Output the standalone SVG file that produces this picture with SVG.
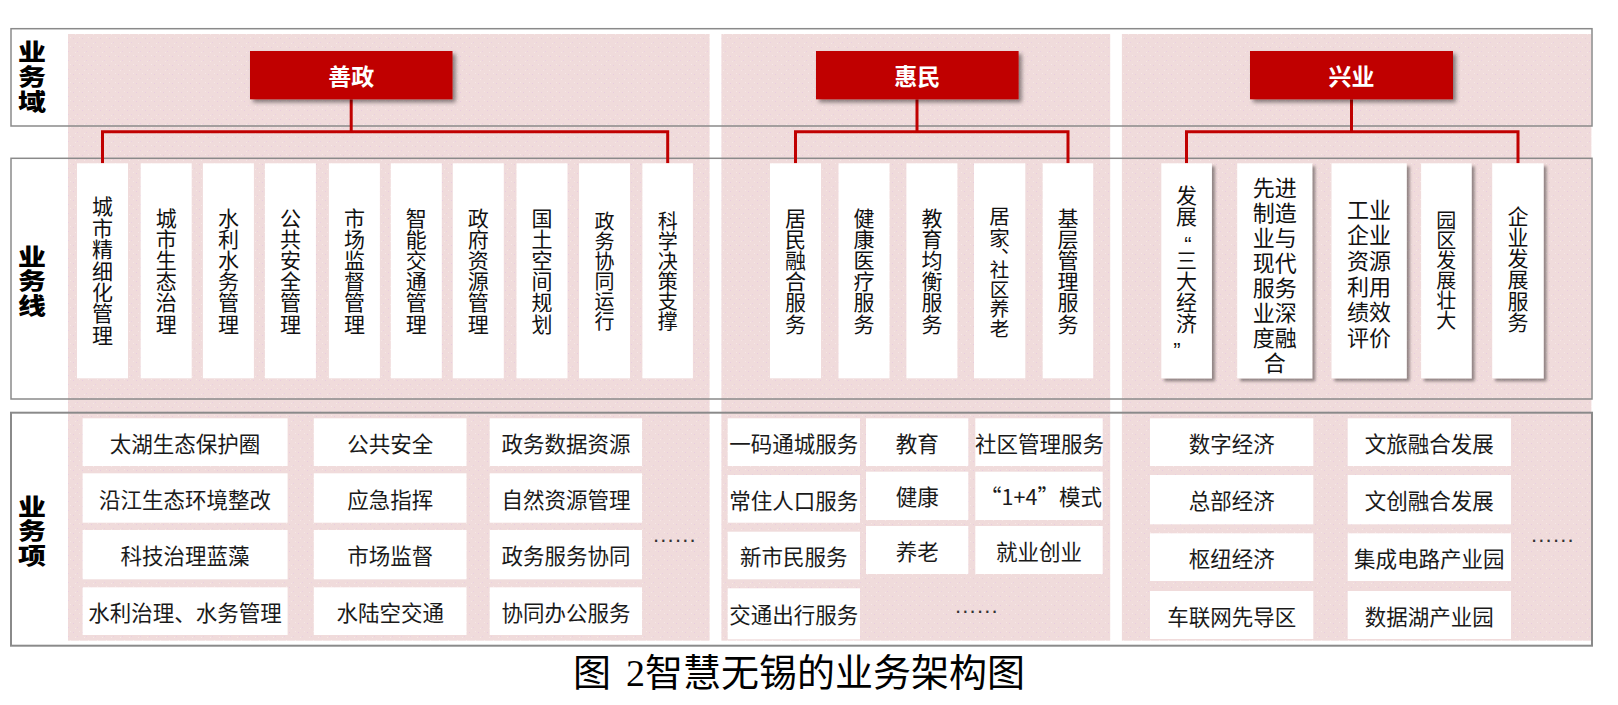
<svg xmlns="http://www.w3.org/2000/svg" width="1618" height="705" viewBox="0 0 1618 705">
<defs>
<style>
.pk{fill:url(#tex)}
.row{fill:none;stroke:#8a8a8a;stroke-width:1.5}
.lab{font-family:"Noto Sans CJK SC",sans-serif;font-weight:900;font-size:28px;fill:#000;text-anchor:middle;writing-mode:vertical-rl;letter-spacing:3px}
.hd rect{fill:#C00000}
.hd text{font-family:"Noto Sans CJK SC",sans-serif;font-weight:700;font-size:23px;fill:#fff;text-anchor:middle;dominant-baseline:central}
.card rect{fill:#fff}
.vt{font-family:"Noto Sans CJK SC",sans-serif;font-size:21px;fill:#111;text-anchor:middle;writing-mode:vertical-rl;letter-spacing:0.2px}
.f20{font-size:20px;letter-spacing:0}
.v{font-family:"Noto Sans CJK SC",sans-serif;font-size:22px;fill:#111;text-anchor:middle;dominant-baseline:central}
.q{font-family:"Liberation Sans",sans-serif;font-size:22px;fill:#111;text-anchor:middle}
.mk{font-family:"Noto Sans CJK SC",sans-serif;font-size:20px;fill:#111;dominant-baseline:central}
.it rect{fill:#fff}
.it text{font-family:"Noto Sans CJK SC",sans-serif;font-size:21.5px;fill:#1a1a1a;text-anchor:middle;dominant-baseline:central}
.con path{fill:none;stroke:#C00000;stroke-width:3}
.dots{font-family:"Liberation Sans",sans-serif;font-size:22px;fill:#333;letter-spacing:1.2px}
.cap{font-family:"Liberation Serif","Noto Sans CJK SC",serif;font-size:38px;fill:#000;dominant-baseline:central}
</style>
<pattern id="tex" width="9" height="9" patternUnits="userSpaceOnUse">
<rect width="9" height="9" fill="#F0DBDB"/>
<rect x="1" y="2" width="1" height="1" fill="#E8CCDE"/>
<rect x="5" y="6" width="1" height="1" fill="#EAD0E0"/>
<rect x="7" y="1" width="1" height="1" fill="#F6E7E6"/>
<rect x="3" y="7" width="1" height="1" fill="#F6E7E6"/>
</pattern>
<filter id="sh" x="-10%" y="-10%" width="130%" height="140%">
<feDropShadow dx="3" dy="3" stdDeviation="2" flood-color="#000" flood-opacity="0.45"/>
</filter>
<filter id="sh2" x="-20%" y="-5%" width="150%" height="115%">
<feDropShadow dx="3" dy="3" stdDeviation="1.5" flood-color="#000" flood-opacity="0.4"/>
</filter>
</defs>

<rect width="1618" height="705" fill="#fff"/>

<g id="panels">
<rect class="pk" x="68" y="34" width="641.6" height="606.7"/>
<rect class="pk" x="721.4" y="34" width="388.8" height="606.7"/>
<rect class="pk" x="1121.9" y="34" width="469.5" height="606.7"/>
</g>

<g id="rows">
<rect class="row" x="11" y="28.7" width="1581" height="97.3"/>
<rect class="row" x="11" y="158.3" width="1581" height="240.7"/>
<rect class="row" x="11" y="412.7" width="1581" height="233" style="stroke-width:2"/>
</g>

<g id="row-labels">
<g id="label-domain" transform="translate(32,77.5) scale(1,0.8)"><text class="lab" x="0" y="0">业务域</text></g>
<g id="label-line" transform="translate(32,282) scale(1,0.8)"><text class="lab" x="0" y="0">业务线</text></g>
<g id="label-item" transform="translate(32,532) scale(1,0.8)"><text class="lab" x="0" y="0">业务项</text></g>
</g>

<g id="connectors" class="con">
<path d="M351.2,99.3 V131.7"/>
<path d="M102.5,163.3 V131.7 H667.7 V163.3"/>
<path d="M917,99.3 V131.7"/>
<path d="M795.5,163.3 V131.7 H1068 V163.3"/>
<path d="M1351.5,99.3 V131.7"/>
<path d="M1186.5,163.3 V131.7 H1518 V163.3"/>
</g>

<g id="hd-shanzheng" class="hd"><rect x="250" y="51" width="202.5" height="48.3" filter="url(#sh)"/><text x="351.2" y="75">善政</text></g>
<g id="hd-huimin" class="hd"><rect x="816" y="51" width="202.6" height="48.3" filter="url(#sh)"/><text x="917.3" y="75">惠民</text></g>
<g id="hd-xingye" class="hd"><rect x="1250" y="51" width="203" height="48.3" filter="url(#sh)"/><text x="1351.5" y="75">兴业</text></g>

<!-- 善政 business lines -->
<g id="c1" class="card"><rect x="77" y="163.3" width="51" height="215"/><text class="vt" x="102.5" y="270.8" style="letter-spacing:0.4px">城市精细化管理</text></g>
<g id="c2" class="card"><rect x="140.7" y="163.3" width="51" height="215"/><text class="vt" x="166.2" y="270.8">城市生态治理</text></g>
<g id="c3" class="card"><rect x="202.9" y="163.3" width="51" height="215"/><text class="vt" x="228.4" y="270.8">水利水务管理</text></g>
<g id="c4" class="card"><rect x="264.9" y="163.3" width="51" height="215"/><text class="vt" x="290.4" y="270.8">公共安全管理</text></g>
<g id="c5" class="card"><rect x="328.9" y="163.3" width="51" height="215"/><text class="vt" x="354.4" y="270.8">市场监督管理</text></g>
<g id="c6" class="card"><rect x="390.8" y="163.3" width="51" height="215"/><text class="vt" x="416.3" y="270.8">智能交通管理</text></g>
<g id="c7" class="card"><rect x="452.8" y="163.3" width="51" height="215"/><text class="vt" x="478.3" y="270.8">政府资源管理</text></g>
<g id="c8" class="card"><rect x="516.5" y="163.3" width="51" height="215"/><text class="vt" x="542" y="270.8">国土空间规划</text></g>
<g id="c9" class="card"><rect x="579" y="163.3" width="51" height="215"/><text class="vt f20" x="604.5" y="271.5">政务协同运行</text></g>
<g id="c10" class="card"><rect x="642.4" y="163.3" width="50.5" height="215"/><text class="vt f20" x="667.7" y="271">科学决策支撑</text></g>

<!-- 惠民 business lines -->
<g id="c11" class="card"><rect x="770" y="163.3" width="51" height="215"/><text class="vt" x="795.5" y="270.8">居民融合服务</text></g>
<g id="c12" class="card"><rect x="838.5" y="163.3" width="51" height="215"/><text class="vt" x="864" y="270.8">健康医疗服务</text></g>
<g id="c13" class="card"><rect x="906.4" y="163.3" width="51" height="215"/><text class="vt" x="932" y="270.8">教育均衡服务</text></g>
<g id="c14" class="card"><rect x="974" y="163.3" width="51.3" height="215"/><text class="vt" x="999.6" y="227.5" style="font-size:20.5px;letter-spacing:1px">居家</text><text class="mk" x="1001" y="244.7">、</text><text class="vt" x="999.6" y="299" style="font-size:19.5px;letter-spacing:0">社区养老</text></g>
<g id="c15" class="card"><rect x="1042.7" y="163.3" width="50.5" height="215"/><text class="vt" x="1068" y="270.8">基层管理服务</text></g>

<!-- 兴业 business lines -->
<g id="c16" class="card"><rect x="1161.3" y="163.3" width="50.6" height="215" filter="url(#sh2)"/><text class="vt" x="1186.5" y="205.5" style="letter-spacing:0">发展</text><text class="q" x="1188" y="251.5">“</text><text class="vt" x="1186.5" y="291.5" style="letter-spacing:0">三大经济</text><text class="q" x="1177" y="358">”</text></g>
<g id="c17" class="card"><rect x="1237.2" y="163.3" width="75" height="215" filter="url(#sh2)"/><text class="v"><tspan x="1274.7" y="186">先进</tspan><tspan x="1274.7" y="211">制造</tspan><tspan x="1274.7" y="236">业与</tspan><tspan x="1274.7" y="261">现代</tspan><tspan x="1274.7" y="286">服务</tspan><tspan x="1274.7" y="311">业深</tspan><tspan x="1274.7" y="336">度融</tspan><tspan x="1274.7" y="361">合</tspan></text></g>
<g id="c18" class="card"><rect x="1331.5" y="163.3" width="75.2" height="215" filter="url(#sh2)"/><text class="v"><tspan x="1369" y="207.7">工业</tspan><tspan x="1369" y="233.3">企业</tspan><tspan x="1369" y="258.9">资源</tspan><tspan x="1369" y="284.5">利用</tspan><tspan x="1369" y="310.1">绩效</tspan><tspan x="1369" y="335.7">评价</tspan></text></g>
<g id="c19" class="card"><rect x="1421.1" y="163.3" width="50.5" height="215" filter="url(#sh2)"/><text class="vt f20" x="1446.3" y="270">园区发展壮大</text></g>
<g id="c20" class="card"><rect x="1492.2" y="163.3" width="51.4" height="215" filter="url(#sh2)"/><text class="vt" x="1518" y="269" style="letter-spacing:0.3px">企业发展服务</text></g>

<!-- 业务项: 善政 -->
<g id="i1" class="it"><rect x="82.6" y="418.3" width="205" height="47.7"/><text x="185" y="442.2">太湖生态保护圈</text></g>
<g id="i2" class="it"><rect x="82.6" y="473.3" width="205" height="49.4"/><text x="185" y="498">沿江生态环境整改</text></g>
<g id="i3" class="it"><rect x="82.6" y="530" width="205" height="49.3"/><text x="185" y="554.7">科技治理蓝藻</text></g>
<g id="i4" class="it"><rect x="82.6" y="587.3" width="205" height="47.7"/><text x="185" y="611.2">水利治理、水务管理</text></g>
<g id="i5" class="it"><rect x="313.8" y="418.3" width="152.7" height="47.7"/><text x="390.2" y="442.2">公共安全</text></g>
<g id="i6" class="it"><rect x="313.8" y="473.3" width="152.7" height="49.4"/><text x="390.2" y="498">应急指挥</text></g>
<g id="i7" class="it"><rect x="313.8" y="530" width="152.7" height="49.3"/><text x="390.2" y="554.7">市场监督</text></g>
<g id="i8" class="it"><rect x="313.8" y="587.3" width="152.7" height="47.7"/><text x="390.2" y="611.2">水陆空交通</text></g>
<g id="i9" class="it"><rect x="489.7" y="418.3" width="152.3" height="47.7"/><text x="565.9" y="442.2">政务数据资源</text></g>
<g id="i10" class="it"><rect x="489.7" y="473.3" width="152.3" height="49.4"/><text x="565.9" y="498">自然资源管理</text></g>
<g id="i11" class="it"><rect x="489.7" y="530" width="152.3" height="49.3"/><text x="565.9" y="554.7">政务服务协同</text></g>
<g id="i12" class="it"><rect x="489.7" y="587.3" width="152.3" height="47.7"/><text x="565.9" y="611.2">协同办公服务</text></g>
<text class="dots" x="653" y="542">......</text>

<!-- 业务项: 惠民 -->
<g id="i13" class="it"><rect x="727.7" y="418.3" width="132.3" height="47.7"/><text x="793.8" y="442.2">一码通城服务</text></g>
<g id="i14" class="it"><rect x="727.7" y="475" width="132.3" height="47.7"/><text x="793.8" y="499">常住人口服务</text></g>
<g id="i15" class="it"><rect x="727.7" y="531.7" width="132.3" height="47.6"/><text x="793.8" y="555.5">新市民服务</text></g>
<g id="i16" class="it"><rect x="727.7" y="588.3" width="132.3" height="51"/><text x="793.8" y="613.8">交通出行服务</text></g>
<g id="i17" class="it"><rect x="866" y="418.3" width="102.3" height="47.7"/><text x="917.2" y="442.2">教育</text></g>
<g id="i18" class="it"><rect x="866" y="471.7" width="102.3" height="48.3"/><text x="917.2" y="495.8">健康</text></g>
<g id="i19" class="it"><rect x="866" y="526" width="102.3" height="48"/><text x="917.2" y="550">养老</text></g>
<g id="i20" class="it"><rect x="975.3" y="418.3" width="127.4" height="47.7"/><text x="1039.5" y="442.2">社区管理服务</text></g>
<g id="i21" class="it"><rect x="975.3" y="471.7" width="127.4" height="48.3"/><text x="1041" y="495.8">“1+4”模式</text></g>
<g id="i22" class="it"><rect x="975.3" y="526" width="127.4" height="48"/><text x="1039" y="550">就业创业</text></g>
<text class="dots" x="955" y="613">......</text>

<!-- 业务项: 兴业 -->
<g id="i23" class="it"><rect x="1150" y="418.3" width="163.3" height="47.7"/><text x="1231.7" y="442.2">数字经济</text></g>
<g id="i24" class="it"><rect x="1150" y="475" width="163.3" height="49.3"/><text x="1231.7" y="499.7">总部经济</text></g>
<g id="i25" class="it"><rect x="1150" y="533.3" width="163.3" height="47.7"/><text x="1231.7" y="557.2">枢纽经济</text></g>
<g id="i26" class="it"><rect x="1150" y="591" width="163.3" height="48"/><text x="1231.7" y="615">车联网先导区</text></g>
<g id="i27" class="it"><rect x="1347.7" y="418.3" width="163.3" height="47.7"/><text x="1429.3" y="442.2">文旅融合发展</text></g>
<g id="i28" class="it"><rect x="1347.7" y="475" width="163.3" height="49.3"/><text x="1429.3" y="499.7">文创融合发展</text></g>
<g id="i29" class="it"><rect x="1347.7" y="533.3" width="163.3" height="47.7"/><text x="1429.3" y="557.2">集成电路产业园</text></g>
<g id="i30" class="it"><rect x="1347.7" y="591" width="163.3" height="48"/><text x="1429.3" y="615">数据湖产业园</text></g>
<text class="dots" x="1531" y="542">......</text>

<g id="caption">
<text class="cap" x="573" y="673">图</text>
<text class="cap" x="626" y="673">2智慧无锡的业务架构图</text>
</g>
</svg>
